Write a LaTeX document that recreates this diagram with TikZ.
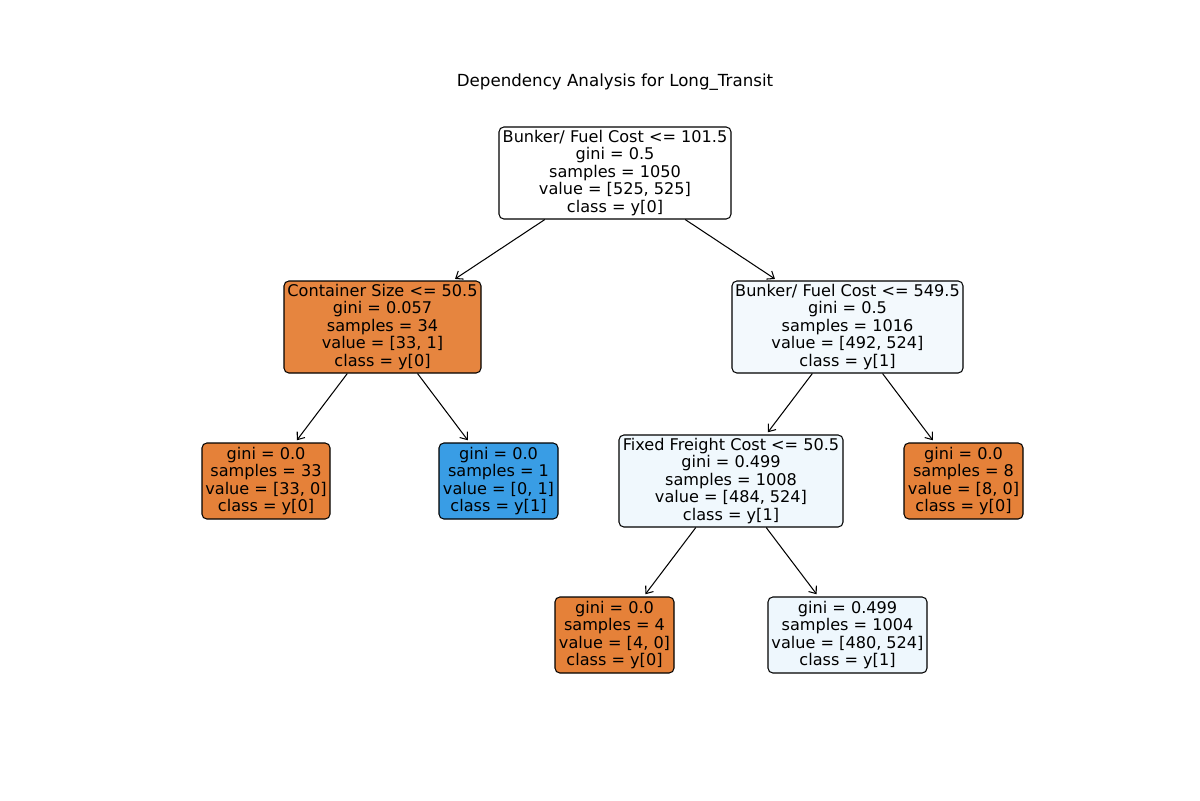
\documentclass[tikz,border=0pt]{standalone}
\usepackage{fontspec}
\setmainfont{DejaVu Sans}
\usetikzlibrary{arrows.meta}
\newcommand\pxu{0.72pt}
\definecolor{cz}{HTML}{E58139}
\definecolor{czb}{HTML}{E6853F}
\definecolor{co}{HTML}{399DE5}
\definecolor{cla}{HTML}{F3F9FD}
\definecolor{clb}{HTML}{F0F8FD}
\definecolor{clc}{HTML}{EEF7FD}
\tikzset{
  tbox/.style={draw=black, line width=0.75pt, rounded corners=3.5pt, inner sep=0pt, align=center,
    font=\fontsize{11.6}{12.6}\selectfont},
  edge/.style={line width=0.75pt, -{Straight Barb[length=4.5pt,width=7pt,line width=0.75pt]}, shorten >=2pt},
}
\begin{document}
\begin{tikzpicture}[x=\pxu, y=-\pxu]
\useasboundingbox (0,0) rectangle (1200,800);
\node[font=\fontsize{12}{14}\selectfont] (title) at (615,82) {Dependency Analysis for Long\_Transit};
\node[tbox, fill=white, minimum width=232*\pxu, minimum height=92*\pxu] (root) at (615,173)
  {Bunker/ Fuel Cost <= 101.5\\gini = 0.5\\samples = 1050\\value = [525, 525]\\class = y[0]};
\node[tbox, fill=czb, minimum width=197*\pxu, minimum height=92*\pxu] (l) at (382.5,327)
  {Container Size <= 50.5\\gini = 0.057\\samples = 34\\value = [33, 1]\\class = y[0]};
\node[tbox, fill=cla, minimum width=231*\pxu, minimum height=92*\pxu] (r) at (847.5,327)
  {Bunker/ Fuel Cost <= 549.5\\gini = 0.5\\samples = 1016\\value = [492, 524]\\class = y[1]};
\node[tbox, fill=cz, minimum width=128*\pxu, minimum height=76*\pxu] (ll) at (266,481)
  {gini = 0.0\\samples = 33\\value = [33, 0]\\class = y[0]};
\node[tbox, fill=co, minimum width=119*\pxu, minimum height=76*\pxu] (lr) at (498.5,481)
  {gini = 0.0\\samples = 1\\value = [0, 1]\\class = y[1]};
\node[tbox, fill=clb, minimum width=224*\pxu, minimum height=92*\pxu] (rl) at (731,481)
  {Fixed Freight Cost <= 50.5\\gini = 0.499\\samples = 1008\\value = [484, 524]\\class = y[1]};
\node[tbox, fill=cz, minimum width=119*\pxu, minimum height=76*\pxu] (rr) at (963.5,481)
  {gini = 0.0\\samples = 8\\value = [8, 0]\\class = y[0]};
\node[tbox, fill=cz, minimum width=119*\pxu, minimum height=76*\pxu] (rll) at (614.5,635)
  {gini = 0.0\\samples = 4\\value = [4, 0]\\class = y[0]};
\node[tbox, fill=clc, minimum width=159*\pxu, minimum height=76*\pxu] (rlr) at (847.5,635)
  {gini = 0.499\\samples = 1004\\value = [480, 524]\\class = y[1]};
\draw[edge] (root) -- (l);
\draw[edge] (root) -- (r);
\draw[edge] (l) -- (ll);
\draw[edge] (l) -- (lr);
\draw[edge] (r) -- (rl);
\draw[edge] (r) -- (rr);
\draw[edge] (rl) -- (rll);
\draw[edge] (rl) -- (rlr);
\end{tikzpicture}
\end{document}
